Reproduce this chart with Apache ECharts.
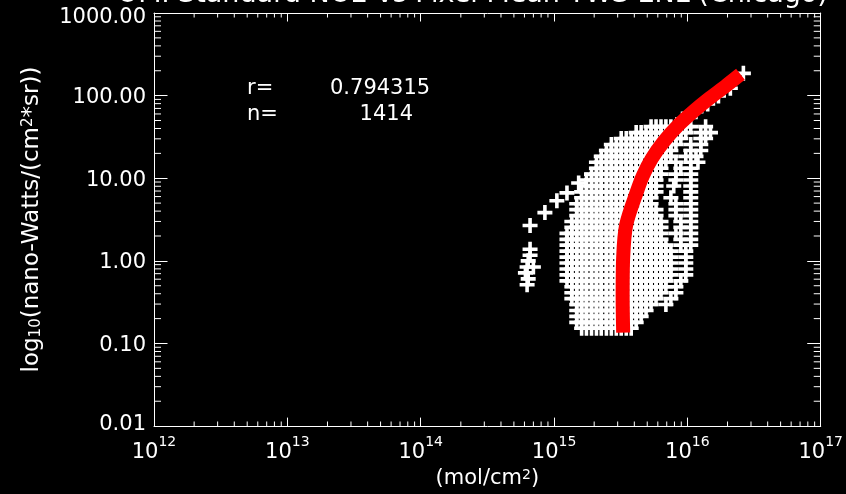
<!DOCTYPE html>
<html>
<head>
<meta charset="utf-8">
<script src="https://cdn.jsdelivr.net/npm/echarts@6/dist/echarts.min.js"></script>
<style>
  html, body { margin: 0; background: #000; }
  #chart { width: 846px; height: 494px; }
</style>
</head>
<body>
<div id="chart"></div>
<script>
// column NO2 (x, in 1e15 mol/cm2) and radiance (y, nano-Watts/(cm2*sr))
const rowFlux = [42.1, 35.7, 30.3, 25.6, 21.7, 18.4, 15.6, 13.2, 11.2, 9.51, 8.07, 6.84, 5.80, 4.91, 4.17, 3.53,
  2.99, 2.54, 2.15, 1.82, 1.55, 1.31, 1.11, 0.942, 0.798, 0.676, 0.573, 0.486, 0.412, 0.349, 0.296, 0.251,
  0.213, 0.180, 0.153]
const rowColumn = [
  [5.34, 5.82, 6.34, 6.9, 7.52, 8.2, 8.93, 9.73, 10.6, 13.7],
  [4.13, 4.5, 4.9, 5.34, 5.82, 6.34, 6.9, 7.52, 8.2, 8.93, 9.73, 12.6, 14.9],
  [3.19, 3.48, 3.79, 4.13, 4.5, 4.9, 5.34, 5.82, 6.34, 6.9, 7.52, 8.2, 8.93, 12.6, 13.7],
  [2.69, 2.93, 3.19, 3.48, 3.79, 4.13, 4.5, 4.9, 5.34, 5.82, 6.34, 6.9, 7.52, 8.2, 10.6, 12.6],
  [2.47, 2.69, 2.93, 3.19, 3.48, 3.79, 4.13, 4.5, 4.9, 5.34, 5.82, 6.34, 6.9, 7.52, 10.6, 12.6],
  [2.26, 2.47, 2.69, 2.93, 3.19, 3.48, 3.79, 4.13, 4.5, 4.9, 5.34, 5.82, 6.34, 6.9, 7.52, 9.73, 11.6],
  [2.08, 2.26, 2.47, 2.69, 2.93, 3.19, 3.48, 3.79, 4.13, 4.5, 4.9, 5.34, 5.82, 6.34, 6.9, 8.2, 10.6, 12.0],
  [2.08, 2.26, 2.47, 2.69, 2.93, 3.19, 3.48, 3.79, 4.13, 4.5, 4.9, 5.34, 5.82, 6.34, 8.93, 10.6],
  [1.91, 2.08, 2.26, 2.47, 2.69, 2.93, 3.19, 3.48, 3.79, 4.13, 4.5, 4.9, 5.34, 5.82, 6.34, 8.2, 10.6],
  [1.75, 1.91, 2.08, 2.26, 2.47, 2.69, 2.93, 3.19, 3.48, 3.79, 4.13, 4.5, 4.9, 5.34, 5.82, 8.2, 10.6],
  [1.75, 1.91, 2.08, 2.26, 2.47, 2.69, 2.93, 3.19, 3.48, 3.79, 4.13, 4.5, 4.9, 5.34, 5.82, 7.9, 10.6],
  [1.61, 1.75, 1.91, 2.08, 2.26, 2.47, 2.69, 2.93, 3.19, 3.48, 3.79, 4.13, 4.5, 4.9, 5.34, 5.82, 10.6],
  [1.61, 1.75, 1.91, 2.08, 2.26, 2.47, 2.69, 2.93, 3.19, 3.48, 3.79, 4.13, 4.5, 4.9, 5.34, 7.52, 10.6],
  [1.48, 1.61, 1.75, 1.91, 2.08, 2.26, 2.47, 2.69, 2.93, 3.19, 3.48, 3.79, 4.13, 4.5, 4.9, 5.34, 8.2, 10.6],
  [1.48, 1.61, 1.75, 1.91, 2.08, 2.26, 2.47, 2.69, 2.93, 3.19, 3.48, 3.79, 4.13, 4.5, 4.9, 5.34, 5.82, 8.2, 10.6],
  [1.48, 1.61, 1.75, 1.91, 2.08, 2.26, 2.47, 2.69, 2.93, 3.19, 3.48, 3.79, 4.13, 4.5, 4.9, 5.34, 5.82, 8.2, 10.6],
  [1.36, 1.48, 1.61, 1.75, 1.91, 2.08, 2.26, 2.47, 2.69, 2.93, 3.19, 3.48, 3.79, 4.13, 4.5, 4.9, 5.34, 5.82, 6.34, 8.93, 10.6],
  [1.36, 1.48, 1.61, 1.75, 1.91, 2.08, 2.26, 2.47, 2.69, 2.93, 3.19, 3.48, 3.79, 4.13, 4.5, 4.9, 5.34, 5.82, 6.34, 8.93, 10.6],
  [1.25, 1.36, 1.48, 1.61, 1.75, 1.91, 2.08, 2.26, 2.47, 2.69, 2.93, 3.19, 3.48, 3.79, 4.13, 4.5, 4.9, 5.34, 5.82, 6.34, 8.2, 10.6],
  [1.25, 1.36, 1.48, 1.61, 1.75, 1.91, 2.08, 2.26, 2.47, 2.69, 2.93, 3.19, 3.48, 3.79, 4.13, 4.5, 4.9, 5.34, 5.82, 6.34, 8.93, 10.6],
  [1.25, 1.36, 1.48, 1.61, 1.75, 1.91, 2.08, 2.26, 2.47, 2.69, 2.93, 3.19, 3.48, 3.79, 4.13, 4.5, 4.9, 5.34, 5.82, 6.34, 6.9, 8.93, 10.6],
  [1.25, 1.36, 1.48, 1.61, 1.75, 1.91, 2.08, 2.26, 2.47, 2.69, 2.93, 3.19, 3.48, 3.79, 4.13, 4.5, 4.9, 5.34, 5.82, 6.34, 6.9, 7.52, 9.73],
  [1.25, 1.36, 1.48, 1.61, 1.75, 1.91, 2.08, 2.26, 2.47, 2.69, 2.93, 3.19, 3.48, 3.79, 4.13, 4.5, 4.9, 5.34, 5.82, 6.34, 6.9, 7.52, 9.73],
  [1.25, 1.36, 1.48, 1.61, 1.75, 1.91, 2.08, 2.26, 2.47, 2.69, 2.93, 3.19, 3.48, 3.79, 4.13, 4.5, 4.9, 5.34, 5.82, 6.34, 6.9, 7.52, 9.73],
  [1.25, 1.36, 1.48, 1.61, 1.75, 1.91, 2.08, 2.26, 2.47, 2.69, 2.93, 3.19, 3.48, 3.79, 4.13, 4.5, 4.9, 5.34, 5.82, 6.34, 6.9, 7.52, 9.73],
  [1.25, 1.36, 1.48, 1.61, 1.75, 1.91, 2.08, 2.26, 2.47, 2.69, 2.93, 3.19, 3.48, 3.79, 4.13, 4.5, 4.9, 5.34, 5.82, 6.34, 6.9, 7.52, 9.73],
  [1.25, 1.36, 1.48, 1.61, 1.75, 1.91, 2.08, 2.26, 2.47, 2.69, 2.93, 3.19, 3.48, 3.79, 4.13, 4.5, 4.9, 5.34, 5.82, 6.34, 6.9, 8.93],
  [1.36, 1.48, 1.61, 1.75, 1.91, 2.08, 2.26, 2.47, 2.69, 2.93, 3.19, 3.48, 3.79, 4.13, 4.5, 4.9, 5.34, 5.82, 6.34, 6.9, 8.2],
  [1.36, 1.48, 1.61, 1.75, 1.91, 2.08, 2.26, 2.47, 2.69, 2.93, 3.19, 3.48, 3.79, 4.13, 4.5, 4.9, 5.34, 5.82, 6.34, 8.2],
  [1.36, 1.48, 1.61, 1.75, 1.91, 2.08, 2.26, 2.47, 2.69, 2.93, 3.19, 3.48, 3.79, 4.13, 4.5, 4.9, 5.34, 5.82, 7.52],
  [1.48, 1.61, 1.75, 1.91, 2.08, 2.26, 2.47, 2.69, 2.93, 3.19, 3.48, 3.79, 4.13, 4.5, 4.9, 5.34, 6.9],
  [1.48, 1.61, 1.75, 1.91, 2.08, 2.26, 2.47, 2.69, 2.93, 3.19, 3.48, 3.79, 4.13, 4.5, 4.9],
  [1.48, 1.61, 1.75, 1.91, 2.08, 2.26, 2.47, 2.69, 2.93, 3.19, 3.48, 3.79, 4.13, 4.5],
  [1.48, 1.61, 1.75, 1.91, 2.08, 2.26, 2.47, 2.69, 2.93, 3.19, 3.48, 3.79, 4.13],
  [1.61, 1.75, 1.91, 2.08, 2.26, 2.47, 2.69, 2.93, 3.19, 3.48, 3.79]
]
// isolated pixels left of the cloud and along the top of the curve
const looseColumn = [0.661, 0.854, 1.05, 1.25, 1.53, 0.661, 0.661, 0.64, 0.628, 0.61, 0.64, 0.628, 0.70,
  9.2, 11.6, 14.2, 17.1, 21.0, 26.3]
const looseFlux = [2.68, 3.84, 5.34, 6.65, 8.77, 1.38, 1.17, 1.0, 0.843, 0.715, 0.606, 0.514, 0.843,
  52, 63.7, 79.3, 98.9, 123, 186]

// red model curve
const fitColumn = [3.30, 3.27, 3.30, 3.48, 4.2, 4.66, 5.43, 6.67, 8.49, 11.3, 14.4, 19.3, 25.0]
const fitFlux = [0.135, 0.37, 1.11, 2.75, 7.03, 10.9, 17.5, 27.9, 43.3, 66, 91, 130, 181]

const corrR = '0.794315'
const countN = '1414'

const xMin = 1e12, xMax = 1e17, yMin = 0.01, yMax = 1000
const xDecades = [12, 13, 14, 15, 16]
const yDecades = [-2, -1, 0, 1, 2]
const minorSteps = [2, 3, 4, 5, 6, 7, 8, 9]

const FONT = 'DejaVu Sans'
const WHITE = '#ffffff'
const PLUS = 'path://M5.7 0H9.3V5.7H15V9.3H9.3V15H5.7V9.3H0V5.7H5.7Z'

const cloud = []
rowFlux.forEach((f, i) => rowColumn[i].forEach(c => cloud.push([c * 1e15, f])))
looseColumn.forEach((c, i) => cloud.push([c * 1e15, looseFlux[i]]))
const fit = fitColumn.map((c, i) => [c * 1e15, fitFlux[i]])

const minorXValues = []
xDecades.forEach(d => minorSteps.forEach(k => minorXValues.push(k * Math.pow(10, d))))
const minorYValues = []
yDecades.forEach(d => minorSteps.forEach(k => minorYValues.push(k * Math.pow(10, d))))

// small tick marks drawn as scatter symbols sitting on the frame
function tickSeries(data, size, offset) {
  return {
    type: 'scatter',
    data: data,
    symbol: 'rect',
    symbolSize: size,
    symbolOffset: offset,
    itemStyle: {color: WHITE, opacity: 1},
    clip: false,
    silent: true,
    z: 5
  }
}

// the end labels sit inside the frame, like the original plot
function yLabel(v) {
  const text = v.toFixed(2)
  if (v > 999) return `{hi|${text}}`
  if (v < 0.011) return `{lo|${text}}`
  return `{n|${text}}`
}

const labelFont = {fontFamily: FONT, fontSize: 21, color: WHITE}
const axisLine = {show: true, lineStyle: {color: WHITE, width: 1}}

const chart = echarts.init(document.getElementById('chart'))
const option = {
  backgroundColor: '#000000',
  animation: false,
  grid: {left: 154, right: 20, top: 13, bottom: 63},
  xAxis: [
    {
      type: 'log', logBase: 10, min: xMin, max: xMax, position: 'bottom',
      axisLine: axisLine,
      axisTick: {show: true, inside: true, length: 8.5, lineStyle: {color: WHITE, width: 1}},
      splitLine: {show: false},
      axisLabel: {
        show: true,
        margin: 9,
        color: WHITE,
        formatter: v => `{b|10}{e|${Math.round(Math.log10(v))}}`,
        rich: {
          b: {fontFamily: FONT, fontSize: 21, color: WHITE, lineHeight: 28, verticalAlign: 'bottom'},
          e: {fontFamily: FONT, fontSize: 14, color: WHITE, lineHeight: 10, verticalAlign: 'top'}
        }
      },
      name: '(mol/cm{s|2})',
      nameLocation: 'middle',
      nameGap: 36,
      nameTextStyle: {
        fontFamily: FONT, fontSize: 21, color: WHITE,
        rich: {s: {fontFamily: FONT, fontSize: 14, color: WHITE, verticalAlign: 'top', lineHeight: 12}}
      }
    },
    {
      type: 'log', logBase: 10, min: xMin, max: xMax, position: 'top',
      axisLine: axisLine,
      axisTick: {show: true, inside: true, length: 8.5, lineStyle: {color: WHITE, width: 1}},
      splitLine: {show: false},
      axisLabel: {show: false}
    }
  ],
  yAxis: [
    {
      type: 'log', logBase: 10, min: yMin, max: yMax, position: 'left',
      axisLine: axisLine,
      axisTick: {show: true, inside: true, length: 13.5, lineStyle: {color: WHITE, width: 1}},
      splitLine: {show: false},
      axisLabel: {
        show: true,
        margin: 8,
        color: WHITE,
        formatter: yLabel,
        rich: {
          n: Object.assign({padding: [4, 0, 0, 0]}, labelFont),
          hi: Object.assign({padding: [10, 0, 0, 0]}, labelFont),
          lo: Object.assign({padding: [0, 0, 4, 0]}, labelFont)
        }
      },
      name: 'log{d|10}(nano-Watts/(cm{s|2}*sr))',
      nameLocation: 'middle',
      nameRotate: 90,
      nameGap: 110,
      nameTextStyle: {
        fontFamily: FONT, fontSize: 23, color: WHITE,
        rich: {
          d: {fontFamily: FONT, fontSize: 15, color: WHITE, verticalAlign: 'bottom', lineHeight: 12},
          s: {fontFamily: FONT, fontSize: 15, color: WHITE, verticalAlign: 'top', lineHeight: 12}
        }
      }
    },
    {
      type: 'log', logBase: 10, min: yMin, max: yMax, position: 'right',
      axisLine: axisLine,
      axisTick: {show: true, inside: true, length: 13.5, lineStyle: {color: WHITE, width: 1}},
      splitLine: {show: false},
      axisLabel: {show: false}
    }
  ],
  graphic: [
    {type: 'text', left: 117, top: -19, style: {text: 'OMI Standard NO2 vs Pixel Mean TWS ENL (Chicago)', fill: WHITE, font: `27px "${FONT}"`}},
    {type: 'text', x: 247, y: 89, style: {text: 'r=', fill: WHITE, font: `21px "${FONT}"`, verticalAlign: 'middle'}},
    {type: 'text', x: 330, y: 89, style: {text: corrR, fill: WHITE, font: `21px "${FONT}"`, verticalAlign: 'middle'}},
    {type: 'text', x: 247, y: 115, style: {text: 'n=', fill: WHITE, font: `21px "${FONT}"`, verticalAlign: 'middle'}},
    {type: 'text', x: 413, y: 115, style: {text: countN, fill: WHITE, font: `21px "${FONT}"`, verticalAlign: 'middle', align: 'right'}}
  ],
  series: [
    {
      type: 'scatter',
      data: cloud,
      symbol: PLUS,
      symbolSize: 15,
      itemStyle: {color: WHITE, opacity: 1},
      silent: true,
      z: 2
    },
    {
      type: 'line',
      data: fit,
      showSymbol: false,
      smooth: 0.3,
      lineStyle: {color: '#ff0000', width: 14, cap: 'butt'},
      silent: true,
      z: 3
    },
    tickSeries(minorXValues.map(v => [v, yMin]), [1, 4.5], [0, -2.25]),
    tickSeries(minorXValues.map(v => [v, yMax]), [1, 4.5], [0, 2.25]),
    tickSeries(minorYValues.map(v => [xMin, v]), [7, 1], [3.5, 0]),
    tickSeries(minorYValues.map(v => [xMax, v]), [7, 1], [-3.5, 0])
  ]
}
option && chart.setOption(option)
</script>
</body>
</html>
